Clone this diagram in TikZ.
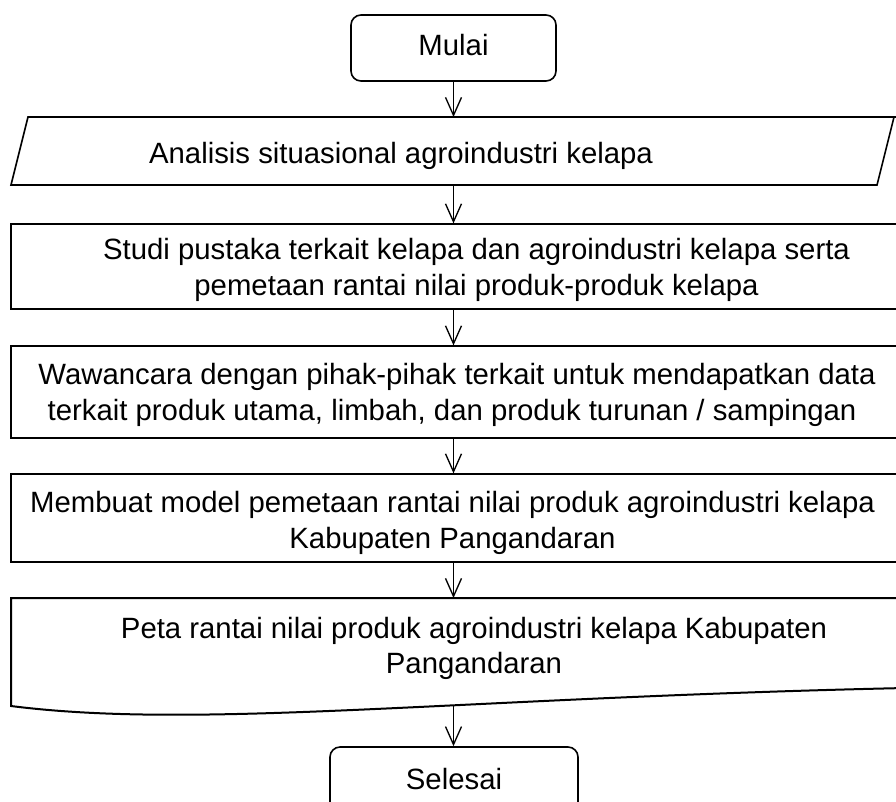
\documentclass[tikz,border=0pt]{standalone}
\usepackage{fontspec}
\setmainfont{Liberation Sans}
\usetikzlibrary{arrows.meta}
\tikzset{
  term/.style={draw, line width=1.2pt, rounded corners=7.5pt, inner sep=0pt},
  rbox/.style={draw, line width=0.9pt, inner sep=0pt},
  txt/.style={inner sep=0pt, anchor=base, font=\fontsize{22}{27}\selectfont},
  arr/.style={line width=1pt, -{Straight Barb[length=13.5pt,width=12pt]}},
}
\begin{document}
\begin{tikzpicture}[x=0.75pt,y=-0.75pt]
\useasboundingbox (0,0) rectangle (896,801);
\fill[white] (0,0) rectangle (896,801);

% Start
\node[term, minimum width=153.75pt, minimum height=49.5pt] (m) at (453.5,48) {};
\node[txt] (tm) at (453.5,55) {Mulai};

% Parallelogram
\draw[line width=1.2pt, line join=miter] (28,117) -- (905,117) -- (894,117) -- (877,185) -- (11,185) -- cycle;
\coordinate (pt) at (453.5,117);
\coordinate (pb) at (453.5,185);
\node[txt] (t1) at (401,163.5) {Analisis situasional agroindustri kelapa};

% Studi
\node[rbox, minimum width=670.5pt, minimum height=63.75pt] (b1) at (458,266.5) {};
\node[txt] (t2a) at (476.5,259.6) {Studi pustaka terkait kelapa dan agroindustri kelapa serta};
\node[txt] (t2b) at (476.5,295) {pemetaan rantai nilai produk-produk kelapa};

% Wawancara
\node[rbox, minimum width=670.5pt, minimum height=69pt] (b2) at (458,392) {};
\node[txt] (t3a) at (457,384.6) {Wawancara dengan pihak-pihak terkait untuk mendapatkan data};
\node[txt] (t3b) at (452,420.6) {terkait produk utama, limbah, dan produk turunan / sampingan};

% Membuat
\node[rbox, minimum width=670.5pt, minimum height=66pt] (b3) at (458,518) {};
\node[txt] (t4a) at (452.5,512.6) {Membuat model pemetaan rantai nilai produk agroindustri kelapa};
\node[txt] (t4b) at (452.5,548) {Kabupaten Pangandaran};

% Document
\draw[line width=1.5pt] (11,598) -- (905,598) -- (905,688)
  .. controls (450,698) and (200,730) .. (11,706) -- cycle;
\coordinate (dt) at (453.5,598);
\coordinate (db) at (453.5,705.5);
\node[txt] (t5a) at (474,638) {Peta rantai nilai produk agroindustri kelapa Kabupaten};
\node[txt] (t5b) at (474,673) {Pangandaran};

% End
\node[term, minimum width=186pt, minimum height=51pt] (s) at (454,781) {};
\node[txt] (ts) at (454,789) {Selesai};

% Connectors
\draw[arr] (m.south) -- (pt);
\draw[arr] (pb) -- (pb |- b1.north);
\draw[arr] (pb |- b1.south) -- (pb |- b2.north);
\draw[arr] (pb |- b2.south) -- (pb |- b3.north);
\draw[arr] (pb |- b3.south) -- (dt);
\draw[arr] (db) -- (db |- s.north);
\end{tikzpicture}
\end{document}
